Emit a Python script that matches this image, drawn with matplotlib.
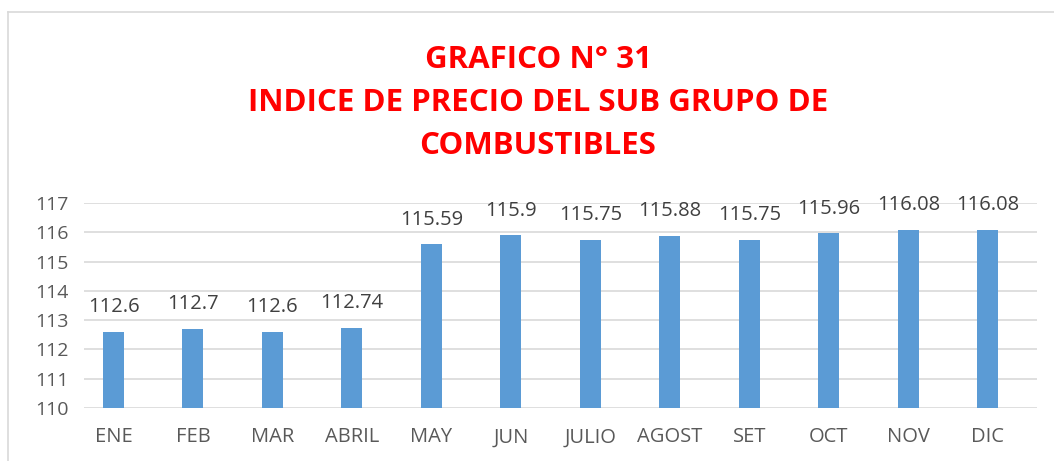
import matplotlib.pyplot as plt
from matplotlib.lines import Line2D

# datos del grafico
meses = ['ENE', 'FEB', 'MAR', 'ABRIL', 'MAY', 'JUN', 'JULIO', 'AGOST', 'SET', 'OCT', 'NOV', 'DIC']
indice = [112.6, 112.7, 112.6, 112.74, 115.59, 115.9, 115.75, 115.88, 115.75, 115.96, 116.08, 116.08]
etiquetas = ['112.6', '112.7', '112.6', '112.74', '115.59', '115.9', '115.75', '115.88',
             '115.75', '115.96', '116.08', '116.08']
yticks = [110, 111, 112, 113, 114, 115, 116, 117]

titulo = 'GRAFICO N° 31\nINDICE DE PRECIO DEL SUB GRUPO DE\nCOMBUSTIBLES'

plt.rcParams['font.family'] = ['Open Sans', 'DejaVu Sans']

fig = plt.figure(figsize=(10.54, 4.61), dpi=100)
ax = fig.add_axes([84 / 1054, 1 - 408 / 461, 953 / 1054, 205 / 461])

x = list(range(len(meses)))
ax.bar(x, indice, width=0.265, color='#5B9BD5', zorder=2)

for xi, v, t in zip(x, indice, etiquetas):
    ax.text(xi, v + 0.5, t, ha='center', va='bottom', fontsize=14.5, color='#404040')

ax.set_ylim(110, 117)
ax.set_xlim(-0.371, 11.62)
ax.set_yticks(yticks)
ax.set_xticks(x)
ax.set_xticklabels(meses)
ax.grid(axis='y', color='#D9D9D9', linewidth=1.2, zorder=0)
ax.tick_params(axis='both', length=0, labelsize=14, labelcolor='#595959')
ax.tick_params(axis='x', pad=14, labelsize=14.5)
ax.tick_params(axis='y', pad=11)
for s in ax.spines.values():
    s.set_visible(False)

fig.text(538 / 1054, 1 - 103 / 461, titulo, ha='center', va='center', color='#FF0000',
         fontsize=22.5, fontweight='bold', linespacing=1.55)

# marco del grafico
fig.add_artist(Line2D([8 / 1054, 8 / 1054], [0, 1 - 12 / 461], transform=fig.transFigure,
                      color='#D9D9D9', linewidth=1.2))
fig.add_artist(Line2D([8 / 1054, 1], [1 - 12 / 461, 1 - 12 / 461], transform=fig.transFigure,
                      color='#D9D9D9', linewidth=1.2))

fig.savefig('out.png', dpi=100)
